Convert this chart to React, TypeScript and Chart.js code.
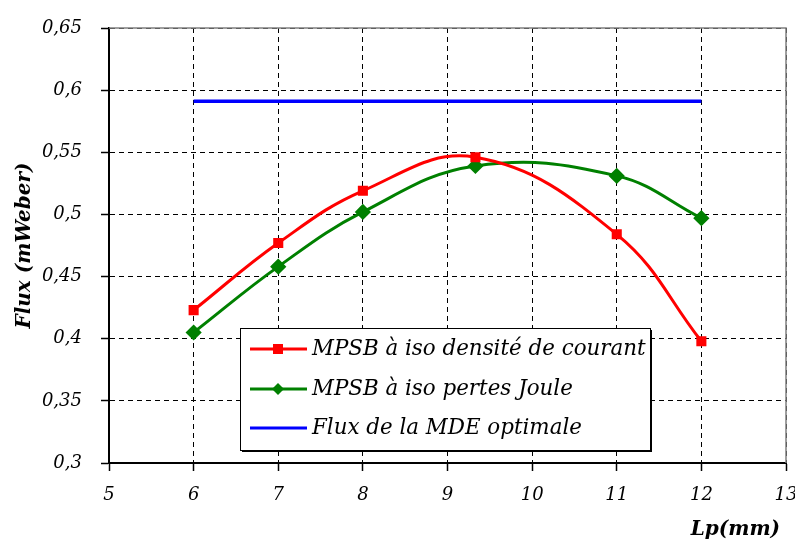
import React, { useEffect, useRef } from "react";
import { Chart, registerables } from "chart.js";

Chart.register(...registerables);

const lpValues = [6, 7, 8, 9.33, 11, 12];
const fluxIsoDensite = [0.423, 0.477, 0.519, 0.546, 0.484, 0.398];
const fluxIsoJoule = [0.405, 0.458, 0.502, 0.539, 0.531, 0.497];
const mdeLp = [6, 12];
const fluxMde = [0.591, 0.591];
const xTicks = [5, 6, 7, 8, 9, 10, 11, 12, 13];
const yTicks = [0.3, 0.35, 0.4, 0.45, 0.5, 0.55, 0.6, 0.65];
const seriesLabels = [
  "MPSB à iso densité de courant",
  "MPSB à iso pertes Joule",
  "Flux de la MDE optimale",
];
const xTitle = "Lp(mm)";
const yTitle = "Flux (mWeber)";

const FONT = "'DejaVu Serif', serif";

const framePlugin = {
  id: "frame",
  beforeDatasetsDraw(chart: any) {
    const { ctx, chartArea } = chart;
    ctx.save();
    ctx.strokeStyle = "#808080";
    ctx.lineWidth = 1.5;
    ctx.beginPath();
    ctx.moveTo(chartArea.left, chartArea.top);
    ctx.lineTo(chartArea.right, chartArea.top);
    ctx.lineTo(chartArea.right, chartArea.bottom);
    ctx.stroke();
    ctx.restore();
  },
  afterDraw(chart: any) {
    const { ctx, chartArea } = chart;
    ctx.save();
    // axis titles
    ctx.fillStyle = "#000";
    ctx.font = `italic bold 20px ${FONT}`;
    ctx.textAlign = "right";
    ctx.textBaseline = "middle";
    ctx.fillText(xTitle, chartArea.right - 6, 530);
    ctx.save();
    ctx.translate(25, (chartArea.top + chartArea.bottom) / 2);
    ctx.rotate(-Math.PI / 2);
    ctx.textAlign = "center";
    ctx.fillText(yTitle, 0, 0);
    ctx.restore();

    // legend box
    const bx = 240, by = 328, bw = 410, bh = 122;
    ctx.fillStyle = "#000";
    ctx.fillRect(bx + 2, by + 2, bw, bh);
    ctx.fillStyle = "#fff";
    ctx.fillRect(bx, by, bw, bh);
    ctx.strokeStyle = "#000";
    ctx.lineWidth = 1;
    ctx.strokeRect(bx + 0.5, by + 0.5, bw, bh);
    const rows = [349, 389, 428];
    chart.data.datasets.forEach((ds: any, i: number) => {
      const y = rows[i];
      ctx.strokeStyle = ds.borderColor;
      ctx.lineWidth = 3;
      ctx.beginPath();
      ctx.moveTo(250, y);
      ctx.lineTo(307, y);
      ctx.stroke();
      ctx.fillStyle = ds.borderColor;
      if (ds.pointStyle === "rect") {
        ctx.fillRect(273, y - 5, 10, 10);
      } else if (ds.pointStyle === "rectRot") {
        ctx.beginPath();
        ctx.moveTo(278, y - 6);
        ctx.lineTo(284, y);
        ctx.lineTo(278, y + 6);
        ctx.lineTo(272, y);
        ctx.closePath();
        ctx.fill();
      }
      ctx.fillStyle = "#000";
      ctx.font = `italic 21.4px ${FONT}`;
      ctx.textAlign = "left";
      ctx.textBaseline = "middle";
      ctx.fillText(ds.label, 312, y);
    });
    ctx.restore();
  },
};

export default function App() {
  const ref = useRef<HTMLCanvasElement>(null);
  useEffect(() => {
    document.body.style.margin = "0";
    const toPts = (xs: number[], ys: number[]) => xs.map((x, i) => ({ x, y: ys[i] }));
    const chart = new Chart(ref.current!, {
      type: "line",
      data: {
        datasets: [
          {
            label: seriesLabels[0],
            data: toPts(lpValues, fluxIsoDensite),
            borderColor: "#ff0000",
            backgroundColor: "#ff0000",
            borderWidth: 3,
            pointStyle: "rect",
            pointRadius: 5,
            tension: 0.4,
          },
          {
            label: seriesLabels[1],
            data: toPts(lpValues, fluxIsoJoule),
            borderColor: "#008000",
            backgroundColor: "#008000",
            borderWidth: 3,
            pointStyle: "rectRot",
            pointRadius: 6,
            tension: 0.4,
          },
          {
            label: seriesLabels[2],
            data: toPts(mdeLp, fluxMde),
            borderColor: "#0000ff",
            backgroundColor: "#0000ff",
            borderWidth: 3.5,
            pointRadius: 0,
            tension: 0,
          },
        ],
      },
      options: {
        animation: false,
        responsive: false,
        layout: { padding: { top: 28, right: 9, left: 0, bottom: 0 } },
        plugins: { legend: { display: false }, tooltip: { enabled: false } },
        scales: {
          x: {
            type: "linear",
            min: 5,
            max: 13,
            afterBuildTicks: (s: any) => {
              s.ticks = xTicks.map((v) => ({ value: v }));
            },
            afterFit: (s: any) => {
              s.height = 81;
              s.paddingLeft = 0;
              s.paddingRight = 0;
            },
            grid: {
              color: "#000",
              lineWidth: 1,
              tickLength: 8,
              tickColor: "#000",
              tickWidth: 1.5,
            },
            border: { color: "#000", width: 2, dash: [5, 4] },
            ticks: {
              color: "#000",
              font: { family: FONT, size: 18, style: "italic" },
              padding: 14,
              maxRotation: 0,
              autoSkip: false,
              callback: (v: any) => String(v),
            },
          },
          y: {
            type: "linear",
            min: 0.3,
            max: 0.65,
            afterBuildTicks: (s: any) => {
              s.ticks = yTicks.map((v) => ({ value: v }));
            },
            afterFit: (s: any) => {
              s.width = 109;
              s.paddingTop = 0;
              s.paddingBottom = 0;
            },
            grid: {
              color: "#000",
              lineWidth: 1,
              tickLength: 8,
              tickColor: "#000",
              tickWidth: 1.5,
            },
            border: { color: "#000", width: 2, dash: [5, 4] },
            ticks: {
              color: "#000",
              font: { family: FONT, size: 18, style: "italic" },
              padding: 19,
              autoSkip: false,
              callback: (v: any) => String(Math.round(v * 100) / 100).replace(".", ","),
            },
          },
        },
      },
      plugins: [framePlugin],
    });
    return () => chart.destroy();
  }, []);
  return <canvas ref={ref} width={795} height={544} style={{ display: "block" }} />;
}
